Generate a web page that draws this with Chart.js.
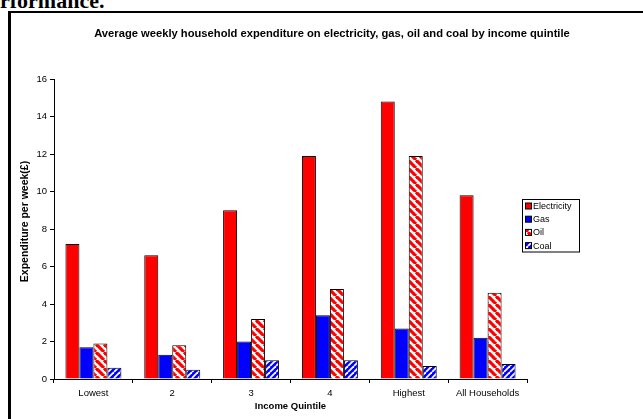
<!DOCTYPE html>
<html>
<head>
<meta charset="utf-8">
<script src="https://cdn.jsdelivr.net/npm/chart.js@4.4.1/dist/chart.umd.min.js"></script>
<style>
  html, body { margin: 0; padding: 0; background: #fff; }
  body { width: 643px; height: 419px; position: relative; overflow: hidden; }
  #heading { position: absolute; left: 0; top: -10px; font: bold 22px "Liberation Serif", "Times New Roman", serif; line-height: 22px; color: #000; white-space: nowrap; }
  #frame { position: absolute; left: 8px; top: 11px; width: 700px; height: 500px; border-left: 3px solid #000; border-top: 2.5px solid #000; }
  #c { position: absolute; left: 0; top: 0; }
</style>
</head>
<body>
<div id="heading">rformance.</div>
<div id="frame"></div>
<canvas id="c" width="643" height="419"></canvas>
<script>
const categories = ['Lowest', '2', '3', '4', 'Highest', 'All Households'];
const electricity = [7.2, 6.6, 9.0, 11.9, 14.8, 9.8];
const gas = [1.7, 1.3, 2.0, 3.4, 2.7, 2.2];
const oil = [1.9, 1.8, 3.2, 4.8, 11.9, 4.6];
const coal = [0.6, 0.5, 1.0, 1.0, 0.7, 0.8];
const seriesNames = ['Electricity', 'Gas', 'Oil', 'Coal'];
const yTicks = [0, 2, 4, 6, 8, 10, 12, 14, 16];

const FONT = 'Arial, "Liberation Sans", sans-serif';

function stripe(bg, fg, dir, size, lw) {
  const p = document.createElement('canvas');
  p.width = size; p.height = size;
  const g = p.getContext('2d');
  g.fillStyle = bg; g.fillRect(0, 0, size, size);
  g.strokeStyle = fg; g.lineWidth = lw;
  for (let k = -size; k <= size; k += size) {
    g.beginPath();
    if (dir === '\\') { g.moveTo(k, 0); g.lineTo(k + size, size); }
    else { g.moveTo(k, size); g.lineTo(k + size, 0); }
    g.stroke();
  }
  return g.createPattern(p, 'repeat');
}
const ctx = document.getElementById('c').getContext('2d');
const oilFill = stripe('#ffffff', '#ff0000', '\\', 8, 3.2);
const coalFill = stripe('#0000ff', '#ffffff', '/', 6, 1.8);
const fills = ['#ff0000', '#0000ff', oilFill, coalFill];
const values = [electricity, gas, oil, coal];

const legendPlugin = {
  id: 'boxLegend',
  afterDraw(chart) {
    const c = chart.ctx;
    const x0 = 522.5, y0 = 199.5, w = 57, h = 52.5;
    c.save();
    c.fillStyle = '#fff';
    c.fillRect(x0, y0, w, h);
    c.strokeStyle = '#000'; c.lineWidth = 1;
    c.strokeRect(x0, y0, w, h);
    c.font = '9px ' + FONT;
    c.textBaseline = 'middle';
    chart.data.datasets.forEach((ds, i) => {
      const cy = 206.5 + i * 13.2;
      c.fillStyle = ds.backgroundColor;
      c.fillRect(525.5, cy - 3.5, 6, 6);
      c.strokeStyle = '#000';
      c.strokeRect(525.5, cy - 3.5, 6, 6);
      c.fillStyle = '#000';
      c.fillText(ds.label, 533, cy);
    });
    c.restore();
  }
};

const yTitlePlugin = {
  id: 'yTitle',
  afterDraw(chart) {
    const t = chart.options.scales.y.title;
    const c = chart.ctx;
    c.save();
    c.translate(25.5, 221.5);
    c.rotate(-Math.PI / 2);
    c.font = 'bold 10.5px ' + FONT;
    c.fillStyle = '#000';
    c.textAlign = 'center';
    c.textBaseline = 'middle';
    c.fillText(t.text, 0, 0);
    c.restore();
  }
};

new Chart(ctx, {
  type: 'bar',
  data: {
    labels: categories,
    datasets: seriesNames.map((n, i) => ({
      label: n,
      data: values[i],
      backgroundColor: fills[i],
      borderColor: '#000',
      borderWidth: 1,
      borderSkipped: 'bottom',
      categoryPercentage: 0.71,
      barPercentage: 1.0,
      yAxisID: 'y'
    }))
  },
  options: {
    responsive: false,
    animation: false,
    devicePixelRatio: 1,
    layout: { padding: { left: 0, right: -21, top: 0, bottom: 0 } },
    plugins: {
      legend: { display: false },
      tooltip: { enabled: false },
      title: {
        display: true,
        fullSize: true,
        text: 'Average weekly household expenditure on electricity, gas, oil and coal by income quintile',
        color: '#000',
        font: { family: FONT, size: 11.2, weight: 'bold', lineHeight: 1.2 },
        padding: { top: 27.3, bottom: 38.3 }
      }
    },
    scales: {
      x: {
        grid: { drawOnChartArea: false, drawTicks: true, tickLength: 4, color: '#000', offset: true },
        border: { display: true, color: '#000', width: 1 },
        ticks: { color: '#000', font: { family: FONT, size: 9.5 }, padding: 5, maxRotation: 0, autoSkip: false },
        title: { display: true, text: 'Income Quintile', color: '#000', font: { family: FONT, size: 9.5, weight: 'bold', lineHeight: 1.2 }, padding: { top: 0, bottom: 7 } },
        afterFit(s) { s.height = 40; }
      },
      y: {
        min: 0, max: 16,
        afterBuildTicks(s) { s.ticks = yTicks.map(v => ({ value: v })); },
        grid: { drawOnChartArea: false, drawTicks: true, tickLength: 4, color: '#000' },
        border: { display: true, color: '#000', width: 1 },
        ticks: { color: '#000', font: { family: FONT, size: 9.5 }, padding: 3 },
        title: { display: false, text: 'Expenditure per week(£)' },
        afterFit(s) { s.width = 54; }
      },
      spacer: {
        type: 'linear',
        position: 'right',
        display: true,
        grid: { display: false },
        border: { display: false },
        ticks: { display: false },
        afterFit(s) { s.width = 137; }
      }
    }
  },
  plugins: [legendPlugin, yTitlePlugin]
});
</script>
</body>
</html>
